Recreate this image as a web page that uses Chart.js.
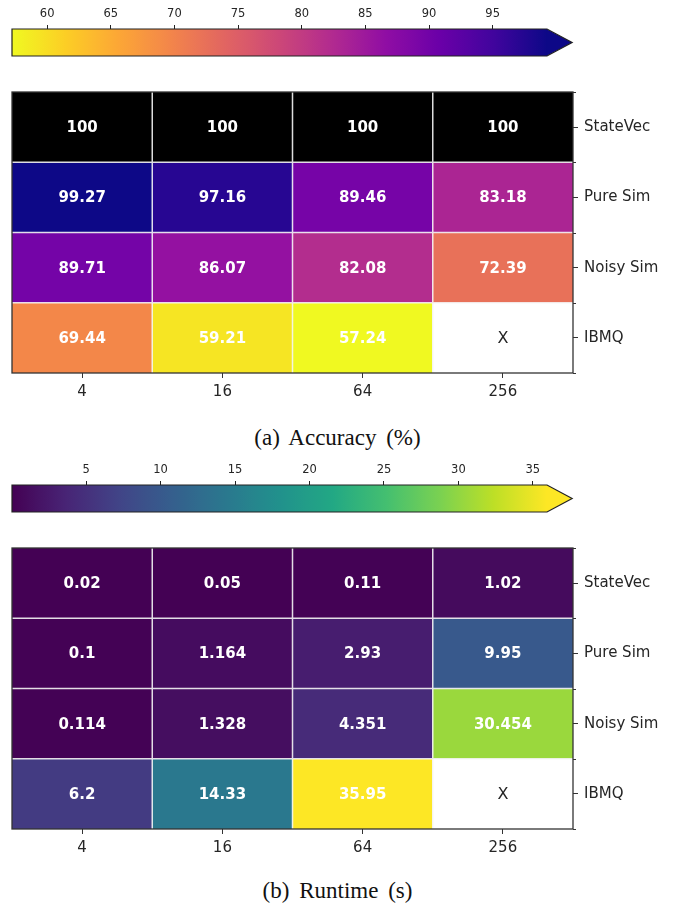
<!DOCTYPE html>
<html>
<head>
<meta charset="utf-8">
<script src="https://cdn.jsdelivr.net/npm/chart.js@4.4.1/dist/chart.umd.min.js"></script>
<style>
  html, body { margin: 0; padding: 0; background: #fff; }
  #page { position: relative; width: 675px; height: 907px; overflow: hidden; }
  canvas { position: absolute; left: 0; }
  .cap {
    position: absolute; left: 0; width: 675px; text-align: center;
    font-family: "Liberation Serif", "Times New Roman", serif;
    font-size: 23px; word-spacing: 4px; color: #111; line-height: 1;
  }
</style>
</head>
<body>
<div id="page">
  <canvas id="cbAcc" width="675" height="60" style="top:-1px"></canvas>
  <canvas id="hmAcc" width="675" height="340" style="top:77px"></canvas>
  <div class="cap" style="top:426px">(a) Accuracy (%)</div>
  <canvas id="cbRun" width="675" height="60" style="top:455px"></canvas>
  <canvas id="hmRun" width="675" height="340" style="top:533px"></canvas>
  <div class="cap" style="top:879px">(b) Runtime (s)</div>
</div>
<script>
// ---- data ----
const shots = ['4', '16', '64', '256'];
const backends = ['StateVec', 'Pure Sim', 'Noisy Sim', 'IBMQ'];

const accStateVec = [100, 100, 100, 100];
const accPureSim  = [99.27, 97.16, 89.46, 83.18];
const accNoisySim = [89.71, 86.07, 82.08, 72.39];
const accIBMQ     = [69.44, 59.21, 57.24, null];

const runStateVec = [0.02, 0.05, 0.11, 1.02];
const runPureSim  = [0.1, 1.164, 2.93, 9.95];
const runNoisySim = [0.114, 1.328, 4.351, 30.454];
const runIBMQ     = [6.2, 14.33, 35.95, null];

const accTicks = [60, 65, 70, 75, 80, 85, 90, 95];
const runTicks = [5, 10, 15, 20, 25, 30, 35];

// ---- colormaps (11 evenly spaced stops) ----
const PLASMA = ['#0d0887','#41049d','#6a00a8','#8f0da4','#b12a90','#cc4778',
                '#e16462','#f2844b','#fca636','#fcce25','#f0f921'];
const VIRIDIS = ['#440154','#482475','#414487','#355f8d','#2a788e','#21918c',
                 '#22a884','#44bf70','#7ad151','#bddf26','#fde725'];

function hexRgb(h) {
  return [parseInt(h.slice(1,3),16), parseInt(h.slice(3,5),16), parseInt(h.slice(5,7),16)];
}
function cmap(stops, t) {
  t = Math.max(0, Math.min(1, t));
  const f = t * (stops.length - 1);
  const i = Math.min(stops.length - 2, Math.floor(f));
  const u = f - i;
  const a = hexRgb(stops[i]), b = hexRgb(stops[i + 1]);
  const c = a.map((v, k) => Math.round(v + (b[k] - v) * u));
  return `rgb(${c[0]},${c[1]},${c[2]})`;
}

const finite = arr => arr.filter(v => v !== null);
const accVals = [...accPureSim, ...accNoisySim, ...finite(accIBMQ)];
const runVals = [...runStateVec, ...runPureSim, ...runNoisySim, ...finite(runIBMQ)];
const accRange = [Math.min(...accVals), Math.max(...accVals)];
const runRange = [Math.min(...runVals), Math.max(...runVals)];

// plasma reversed: high accuracy is dark, values above the range are black
function accColor(v) {
  if (v === null) return '#ffffff';
  if (v > accRange[1]) return '#000000';
  return cmap(PLASMA, 1 - (v - accRange[0]) / (accRange[1] - accRange[0]));
}
function runColor(v) {
  if (v === null) return '#ffffff';
  return cmap(VIRIDIS, (v - runRange[0]) / (runRange[1] - runRange[0]));
}

const FONT = 'DejaVu Sans';
const INK = '#262626';

// ---- heatmap decoration: separators, cell labels, frame, minor ticks ----
const heatDecor = {
  id: 'heatDecor',
  afterDatasetsDraw(chart) {
    const { ctx, chartArea: a, scales: { x, y } } = chart;
    ctx.save();
    ctx.strokeStyle = 'rgba(245,245,245,0.9)';
    ctx.lineWidth = 1.5;
    ctx.beginPath();
    for (let i = 1; i < shots.length; i++) {
      const px = (x.getPixelForTick(i - 1) + x.getPixelForTick(i)) / 2;
      ctx.moveTo(px, a.top); ctx.lineTo(px, a.bottom);
    }
    for (let r = 1; r < backends.length; r++) {
      const py = y.getPixelForValue(r);
      ctx.moveTo(a.left, py); ctx.lineTo(a.right, py);
    }
    ctx.stroke();

    ctx.textAlign = 'center';
    ctx.textBaseline = 'middle';
    chart.data.datasets.forEach((ds, di) => {
      chart.getDatasetMeta(di).data.forEach((el, ci) => {
        const v = ds.values[ci];
        const c = el.getCenterPoint();
        if (v === null) {
          ctx.font = `16px "${FONT}"`;
          ctx.fillStyle = INK;
          ctx.fillText('X', c.x, c.y + 1);
        } else {
          ctx.font = `bold 15px "${FONT}"`;
          ctx.fillStyle = '#ffffff';
          ctx.fillText(String(v), c.x, c.y + 1);
        }
      });
    });

    ctx.strokeStyle = '#333';
    ctx.lineWidth = 1.3;
    ctx.strokeRect(a.left, a.top, a.right - a.left, a.bottom - a.top);

    ctx.lineWidth = 1;
    ctx.beginPath();
    for (let r = 0; r <= backends.length; r++) {
      const py = Math.round(y.getPixelForValue(r)) + 0.5;
      ctx.moveTo(a.right, py); ctx.lineTo(a.right + 3, py);
    }
    ctx.stroke();
    ctx.restore();
  }
};

function heatmap(id, rows, colorFor) {
  new Chart(document.getElementById(id), {
    type: 'bar',
    data: {
      labels: shots,
      datasets: rows.map((vals, r) => ({
        data: vals.map(() => [r, r + 1]),
        values: vals,
        backgroundColor: vals.map(colorFor),
        borderWidth: 0,
        barPercentage: 1,
        categoryPercentage: 1,
        grouped: false
      }))
    },
    options: {
      responsive: false,
      animation: false,
      events: [],
      layout: { padding: { left: 12, top: 12 } },
      plugins: { legend: { display: false }, tooltip: { enabled: false } },
      scales: {
        x: {
          grid: { display: true, offset: false, drawOnChartArea: false, tickLength: 5, color: '#333' },
          border: { display: false },
          ticks: { font: { family: FONT, size: 15 }, color: INK, padding: 5 },
          afterFit(s) { s.height = 44; }
        },
        y: {
          type: 'linear', position: 'right', min: 0, max: 4, reverse: true,
          afterBuildTicks(s) { s.ticks = backends.map((_, i) => ({ value: i + 0.5 })); },
          ticks: { callback: (v, i) => backends[i], font: { family: FONT, size: 15 }, color: INK, padding: 6 },
          grid: { display: true, drawOnChartArea: false, tickLength: 5, color: '#333' },
          border: { display: false },
          afterFit(s) { s.width = 102; }
        }
      }
    },
    plugins: [heatDecor]
  });
}

// ---- colorbar outline with the "extend max" arrow ----
const cbFrame = {
  id: 'cbFrame',
  afterDatasetsDraw(chart, args, opts) {
    const { ctx, chartArea: a } = chart;
    const tip = a.right + (a.right - a.left) * 0.047;
    const mid = (a.top + a.bottom) / 2;
    ctx.save();
    ctx.beginPath();
    ctx.moveTo(a.right - 0.5, a.top);
    ctx.lineTo(tip, mid);
    ctx.lineTo(a.right - 0.5, a.bottom);
    ctx.closePath();
    ctx.fillStyle = opts.over;
    ctx.fill();
    ctx.beginPath();
    ctx.moveTo(a.left, a.top);
    ctx.lineTo(a.right, a.top);
    ctx.lineTo(tip, mid);
    ctx.lineTo(a.right, a.bottom);
    ctx.lineTo(a.left, a.bottom);
    ctx.closePath();
    ctx.strokeStyle = '#222';
    ctx.lineWidth = 1.2;
    ctx.stroke();
    ctx.restore();
  }
};

function colorbar(id, stops, reversed, range, ticks) {
  new Chart(document.getElementById(id), {
    type: 'bar',
    data: {
      labels: [''],
      datasets: [{
        data: [range],
        backgroundColor: (c) => {
          const a = c.chart.chartArea;
          if (!a) return stops[0];
          const g = c.chart.ctx.createLinearGradient(a.left, 0, a.right, 0);
          for (let k = 0; k <= 40; k++) {
            const p = k / 40;
            g.addColorStop(p, cmap(stops, reversed ? 1 - p : p));
          }
          return g;
        },
        borderWidth: 0,
        barPercentage: 1,
        categoryPercentage: 1
      }]
    },
    options: {
      indexAxis: 'y',
      responsive: false,
      animation: false,
      events: [],
      layout: { padding: { left: 12, right: 128, bottom: 3 } },
      plugins: {
        legend: { display: false }, tooltip: { enabled: false },
        cbFrame: { over: reversed ? stops[0] : stops[stops.length - 1] }
      },
      scales: {
        x: {
          type: 'linear', position: 'top', min: range[0], max: range[1],
          afterBuildTicks(s) { s.ticks = ticks.map(v => ({ value: v })); },
          ticks: { font: { family: FONT, size: 11.5 }, color: INK, padding: 4 },
          grid: { display: true, drawOnChartArea: false, tickLength: 4, color: '#222' },
          border: { display: false },
          afterFit(s) { s.height = 30; }
        },
        y: { display: false }
      }
    },
    plugins: [cbFrame]
  });
}

colorbar('cbAcc', PLASMA, true, accRange, accTicks);
heatmap('hmAcc', [accStateVec, accPureSim, accNoisySim, accIBMQ], accColor);
colorbar('cbRun', VIRIDIS, false, runRange, runTicks);
heatmap('hmRun', [runStateVec, runPureSim, runNoisySim, runIBMQ], runColor);
</script>
</body>
</html>
